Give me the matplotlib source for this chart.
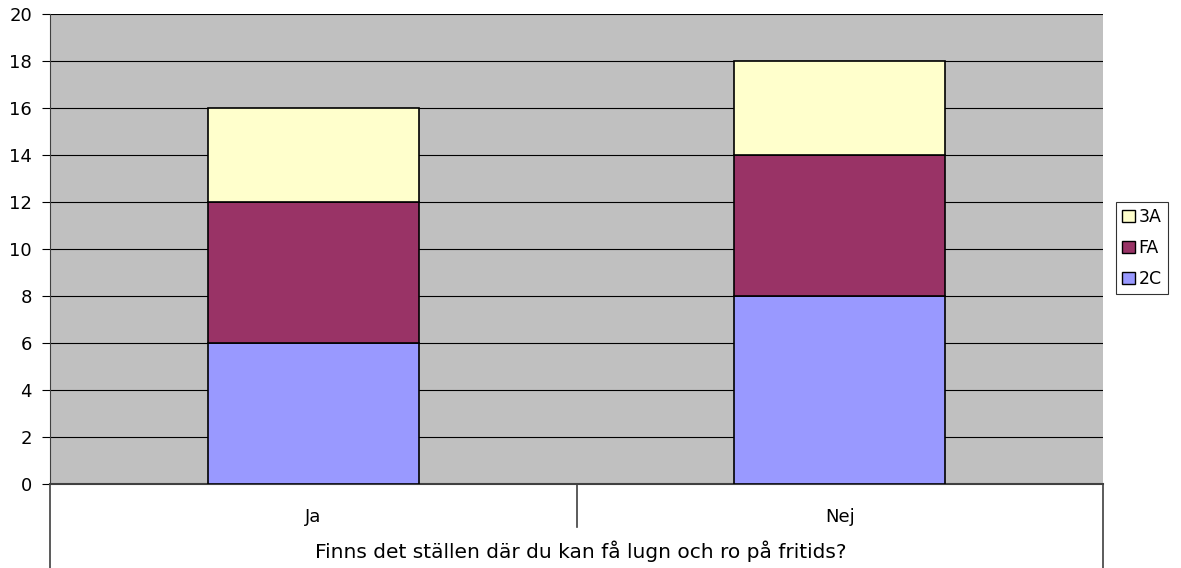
import matplotlib
matplotlib.use("Agg")
import matplotlib.pyplot as plt
from matplotlib.lines import Line2D
from matplotlib.patches import Patch
import numpy as np

categories = ["Ja", "Nej"]
series_names = ["2C", "FA", "3A"]
values_2c = [6, 8]
values_fa = [6, 6]
values_3a = [4, 4]
colors = ["#9999FF", "#993366", "#FFFFCC"]
group_label = "Finns det ställen där du kan få lugn och ro på fritids?"

W, H = 1181, 568
fig = plt.figure(figsize=(W / 100, H / 100), dpi=100, facecolor="white")
left, right, top, bottom = 50, 1103, 14, 484
ax = fig.add_axes([left / W, 1 - bottom / H, (right - left) / W, (bottom - top) / H])
ax.set_facecolor("#C0C0C0")

x = np.arange(len(categories))
base = np.zeros(len(categories))
for name, vals, col in zip(series_names, [values_2c, values_fa, values_3a], colors):
    ax.bar(x, vals, width=0.4, bottom=base, color=col, edgecolor="black",
           linewidth=1.2, label=name, zorder=3)
    base = base + np.array(vals)

ax.set_xlim(-0.5, len(categories) - 0.5)
ax.set_ylim(0, 20)
ax.set_yticks(range(0, 21, 2))
ax.yaxis.grid(True, color="black", linewidth=0.8, zorder=1)
ax.set_axisbelow(True)
ax.set_xticks([])
for s in ["top", "right"]:
    ax.spines[s].set_visible(False)
ax.spines["left"].set_color("#404040")
ax.spines["bottom"].set_color("#404040")
ax.spines["bottom"].set_linewidth(1.5)
ax.tick_params(axis="y", length=6, direction="out", labelsize=13, pad=7)

# category label box below the axis
def vline(px, y0, y1):
    fig.add_artist(Line2D([px / W, px / W], [1 - y0 / H, 1 - y1 / H],
                          color="#404040", linewidth=1.2))

vline(left, bottom, H)
vline(right, bottom, H)
vline((left + right) / 2, bottom, 527)

for i, c in enumerate(categories):
    cx = left + (right - left) * (i + 0.5) / len(categories)
    fig.text(cx / W, 1 - 517 / H, c, ha="center", va="center", fontsize=13)
fig.text(581 / W, 1 - 551 / H, group_label, ha="center", va="center", fontsize=14.5)

handles = [Patch(facecolor=colors[i], edgecolor="black", label=series_names[i])
           for i in [2, 1, 0]]
leg = fig.legend(handles=handles, loc="center left", bbox_to_anchor=(1116 / W, 1 - 248 / H),
                 fontsize=12.5, frameon=True, fancybox=False, handlelength=0.75, handleheight=0.75,
                 handletextpad=0.2, borderpad=0.35, labelspacing=0.75, borderaxespad=0)
leg.get_frame().set_edgecolor("black")
leg.get_frame().set_linewidth(0.8)

fig.savefig("out.png", dpi=100)
